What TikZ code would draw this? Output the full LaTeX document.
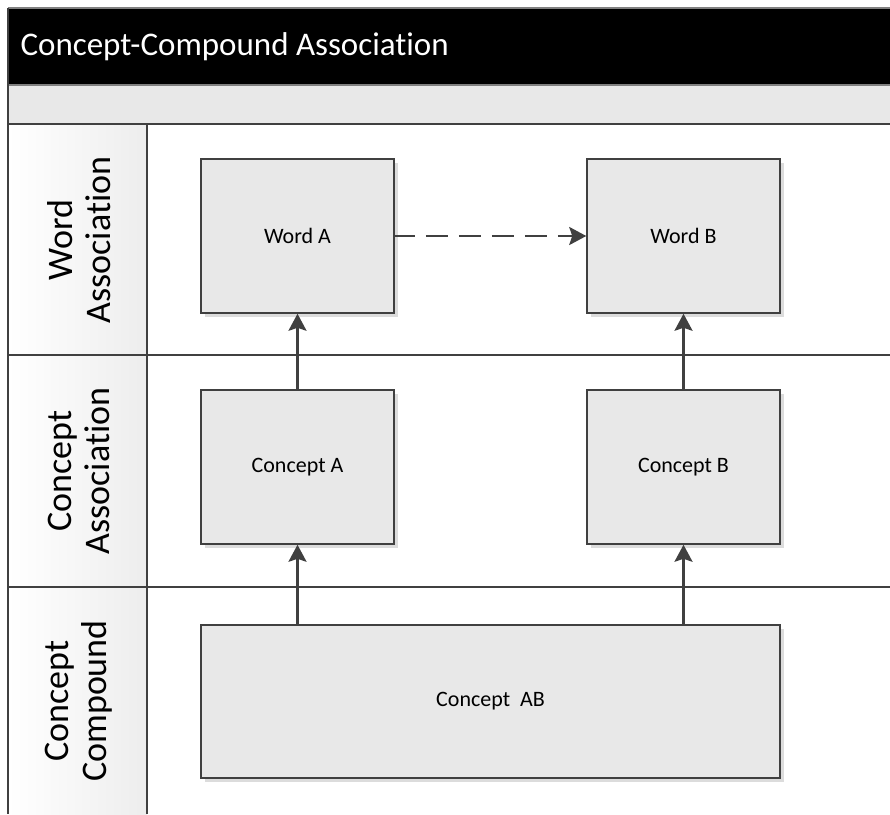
\documentclass[tikz,border=0pt]{standalone}
\usepackage{fontspec}
\setmainfont[Ligatures=NoCommon]{Carlito}
\usetikzlibrary{arrows.meta,positioning}
\definecolor{boxfill}{HTML}{E8E8E8}
\definecolor{edge}{HTML}{404040}
\definecolor{shadowc}{HTML}{DCDCDC}
\definecolor{bandc}{HTML}{E8E8E8}
\tikzset{
  lanebox/.style={draw=edge, line width=1.5pt, fill=boxfill, minimum width=193pt, minimum height=154pt, inner sep=0pt, font=\fontsize{22}{26}\selectfont},
  boxshadow/.style={fill=shadowc, draw=none},
  flow/.style={draw=edge, line width=2.5pt, -{Stealth[length=17pt,width=18pt,inset=3pt]}},
  lanetext/.style={rotate=90, align=center, font=\fontsize{36}{38}\selectfont},
  laneline/.style={draw=edge, line width=1.5pt},
}
\begin{document}
\begin{tikzpicture}[x=1pt,y=-1pt]
\useasboundingbox (0,0) rectangle (890,814);
\fill[white] (0,0) rectangle (890,814);
% header and band
\fill[black] (8,8) rectangle (890,85);
\fill[bandc] (8,85) rectangle (890,124);
\draw[gray, line width=1.5pt] (8,8) -- (890,8);
\draw[gray, line width=1.5pt] (8,85) -- (890,85);
\node[anchor=west, text=white, font=\fontsize{33}{38}\selectfont] (title) at (17,47) {Concept-Compound Association};
% lane label column
\shade[left color=white, right color=black!7] (8,124) rectangle (147,814);
\draw[laneline] (8,124) -- (890,124);
\draw[laneline] (8,355) -- (890,355);
\draw[laneline] (8,587) -- (890,587);
\draw[laneline] (8,8) -- (8,814);
\draw[laneline] (147,124) -- (147,814);
\node[lanetext] (l1) at (79,240) {Word\\Association};
\node[lanetext] (l2) at (79,471) {Concept\\Association};
\node[lanetext] (l3) at (79,701) {Concept\\Compound};
% shadows
\fill[boxshadow] (205,163) rectangle (398,317);
\fill[boxshadow] (591,163) rectangle (784,317);
\fill[boxshadow] (205,394) rectangle (398,548);
\fill[boxshadow] (591,394) rectangle (784,548);
\fill[boxshadow] (205,629) rectangle (784,782);
% boxes
\node[lanebox] (wa) at (297.5,236) {Word A};
\node[lanebox] (wb) at (683.5,236) {Word B};
\node[lanebox] (ca) at (297.5,467) {Concept A};
\node[lanebox] (cb) at (683.5,467) {Concept B};
\node[lanebox, minimum width=579pt, minimum height=153pt] (cab) at (490.5,701.5) {Concept\ \ AB};
% connectors
\draw[flow] (ca.north) -- (wa.south);
\draw[flow] (cb.north) -- (wb.south);
\draw[flow] (cab.north -| ca.south) -- (ca.south);
\draw[flow] (cab.north -| cb.south) -- (cb.south);
\draw[flow, dash pattern=on 22pt off 11pt, dash phase=2pt] (wa.east) -- (wb.west);
\end{tikzpicture}
\end{document}
